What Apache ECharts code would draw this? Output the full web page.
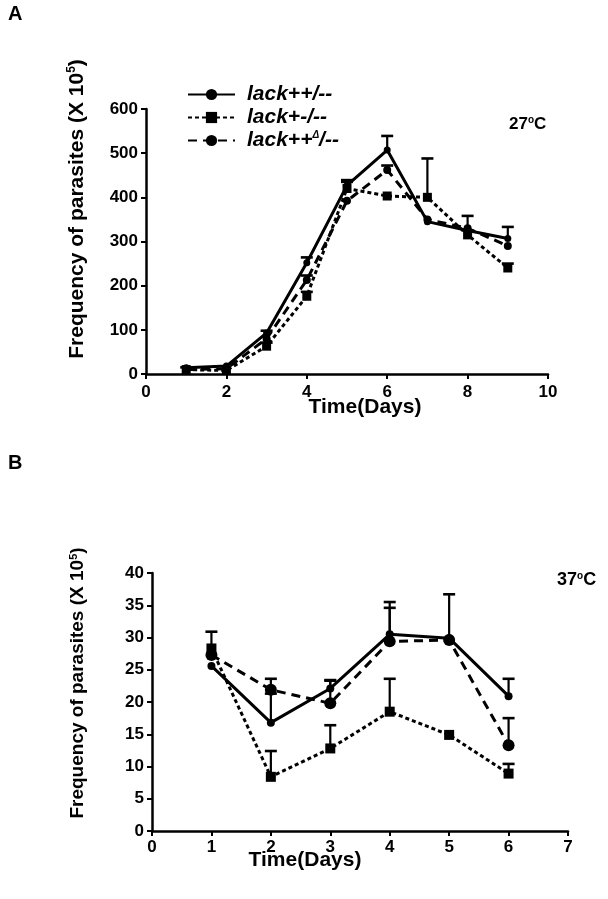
<!DOCTYPE html>
<html>
<head>
<meta charset="utf-8">
<script src="https://cdn.jsdelivr.net/npm/echarts@6/dist/echarts.min.js"></script>
<style>html,body{margin:0;padding:0;background:#fff}#c{width:608px;height:899px}</style>
</head>
<body>
<div id="c"></div>
<script>
// ---- Data: panel A (27 °C) ----
const daysA = [1, 2, 3, 4, 5, 6, 7, 8, 9];
const wtA = [14, 18, 93, 252, 427, 507, 345, 325, 307];       // lack++/--
const hetA = [10, 8, 63, 176, 420, 403, 400, 315, 240];       // lack+-/--
const deltaA = [10, 12, 80, 213, 392, 462, 350, 330, 290];    // lack++Δ/--
const wtErrA = [0, 0, 5, 12, 12, 32, 0, 33, 26];
const hetErrA = [5, 0, 8, 10, 15, 0, 88, 10, 10];
const deltaErrA = [0, 0, 0, 10, 0, 10, 0, 0, 0];
const xTicksA = [0, 2, 4, 6, 8, 10];
const yTicksA = [0, 100, 200, 300, 400, 500, 600];

// ---- Data: panel B (37 °C) ----
const daysB = [1, 2, 3, 4, 5, 6];
const wtB = [25.6, 16.8, 22.1, 30.5, 29.9, 20.9];
const hetB = [28.3, 8.4, 12.8, 18.5, 14.9, 8.9];
const deltaB = [27.3, 21.9, 19.8, 29.4, 29.6, 13.3];
const wtErrB = [0, 4.5, 1.2, 5.0, 6.8, 2.7];
const hetErrB = [2.6, 4.0, 3.6, 5.1, 0, 1.5];
const deltaErrB = [0, 1.7, 3.6, 5.2, 0, 4.2];
const xTicksB = [0, 1, 2, 3, 4, 5, 6, 7];
const yTicksB = [0, 5, 10, 15, 20, 25, 30, 35, 40];

const names = ['lack++/--', 'lack+-/--', 'lack++Δ/--'];

const FONT = 'Liberation Sans, Arial, sans-serif';
const chart = echarts.init(document.getElementById('c'), null, {renderer: 'canvas'});

function pairs(xs, ys) { return xs.map((x, i) => [x, ys[i]]); }
function errTriples(xs, ys, es) { return xs.map((x, i) => [x, ys[i], es[i]]); }

function errRender(params, api) {
  const x = api.value(0), y = api.value(1), e = api.value(2);
  if (!(e > 0)) return null;
  const p0 = api.coord([x, y]);
  const p1 = api.coord([x, y + e]);
  return {
    type: 'group',
    children: [
      {type: 'line', shape: {x1: p0[0], y1: p0[1], x2: p1[0], y2: p1[1]}, style: {stroke: '#000', lineWidth: 2.2}},
      {type: 'line', shape: {x1: p1[0] - 6, y1: p1[1], x2: p1[0] + 6, y2: p1[1]}, style: {stroke: '#000', lineWidth: 2.6}}
    ]
  };
}

const lineStyles = [
  {type: 'solid', width: 3},
  {type: [4, 3], width: 3},
  {type: [9, 6], width: 3}
];
const symbols = ['circle', 'rect', 'circle'];
const symSizesA = [7, 9, 8];
const symSizesB = [8, 10, 12];

function axisCommon(fontSize, margin) {
  return {
    axisLine: {show: true, onZero: false, lineStyle: {color: '#000', width: 2.5}},
    axisTick: {show: true, inside: false, length: 5, lineStyle: {color: '#000', width: 2}},
    splitLine: {show: false},
    axisLabel: {color: '#000', fontFamily: FONT, fontWeight: 'bold', fontSize: fontSize, margin: margin}
  };
}

function lineSeries(idx, xAxisIndex, xs, ys, sizes) {
  return {
    name: names[idx], type: 'line', xAxisIndex: xAxisIndex, yAxisIndex: xAxisIndex,
    data: pairs(xs, ys), symbol: symbols[idx], symbolSize: sizes[idx],
    itemStyle: {color: '#000'}, lineStyle: Object.assign({color: '#000'}, lineStyles[idx]),
    z: 3, animation: false
  };
}
function errSeries(xAxisIndex, xs, ys, es) {
  return {
    type: 'custom', xAxisIndex: xAxisIndex, yAxisIndex: xAxisIndex,
    data: errTriples(xs, ys, es), renderItem: errRender, z: 2, animation: false,
    silent: true
  };
}

const option = {
  backgroundColor: '#fff',
  animation: false,
  grid: [
    {left: 146, top: 109, width: 402, height: 265, outerBoundsMode: 'none'},
    {left: 152, top: 573, width: 416, height: 258, outerBoundsMode: 'none'}
  ],
  xAxis: [
    Object.assign(axisCommon(17, 10), {type: 'value', gridIndex: 0, min: xTicksA[0], max: xTicksA[xTicksA.length - 1], interval: 2}),
    Object.assign(axisCommon(17, 8), {type: 'value', gridIndex: 1, min: xTicksB[0], max: xTicksB[xTicksB.length - 1], interval: 1})
  ],
  yAxis: [
    Object.assign(axisCommon(17, 8), {type: 'value', gridIndex: 0, min: yTicksA[0], max: yTicksA[yTicksA.length - 1], interval: 100}),
    Object.assign(axisCommon(17, 8), {type: 'value', gridIndex: 1, min: yTicksB[0], max: yTicksB[yTicksB.length - 1], interval: 5})
  ],
  legend: {
    data: names,
    orient: 'vertical',
    left: 182, top: 79,
    itemWidth: 47, itemHeight: 14, itemGap: 2,
    selectedMode: false,
    formatter: function (n) { return n === 'lack++Δ/--' ? '{t|lack++}{s|Δ}{u|/--}' : '{t|' + n + '}'; },
    textStyle: {
      color: '#000', fontFamily: FONT, fontWeight: 'bold', fontStyle: 'italic', fontSize: 21, lineHeight: 20,
      rich: {
        t: {fontFamily: FONT, fontWeight: 'bold', fontStyle: 'italic', fontSize: 21, lineHeight: 20, color: '#000', padding: [0, 0, 0, 7]},
        u: {fontFamily: FONT, fontWeight: 'bold', fontStyle: 'italic', fontSize: 21, lineHeight: 20, color: '#000'},
        s: {fontFamily: FONT, fontWeight: 'bold', fontSize: 10, lineHeight: 20, color: '#000', verticalAlign: 'top'}
      }
    }
  },
  graphic: [
    {type: 'text', left: 8, top: 4, style: {text: 'A', font: 'bold 20px ' + FONT, fill: '#000'}},
    {type: 'text', left: 8, top: 453, style: {text: 'B', font: 'bold 20px ' + FONT, fill: '#000'}},
    {type: 'text', x: 509, y: 124, style: {
      text: '27{s|o}C', fill: '#000', font: 'bold 17px ' + FONT, verticalAlign: 'middle',
      rich: {s: {fontSize: 10, fontWeight: 'bold', fontFamily: FONT, padding: [0, 0, 8, 0]}}}},
    {type: 'text', x: 557, y: 580, style: {
      text: '37{s|o}C', fill: '#000', font: 'bold 18px ' + FONT, verticalAlign: 'middle',
      rich: {s: {fontSize: 10, fontWeight: 'bold', fontFamily: FONT, padding: [0, 0, 8, 0]}}}},
    {type: 'text', x: 365, y: 407, style: {text: 'Time(Days)', font: 'bold 21px ' + FONT, fill: '#000', align: 'center', verticalAlign: 'middle'}},
    {type: 'text', x: 305, y: 860, style: {text: 'Time(Days)', font: 'bold 21px ' + FONT, fill: '#000', align: 'center', verticalAlign: 'middle'}},
    {type: 'text', x: 77, y: 209, rotation: Math.PI / 2, style: {
      text: 'Frequency of parasites (X 10{s|5})', font: 'bold 21px ' + FONT, fill: '#000', align: 'center', verticalAlign: 'middle',
      rich: {s: {fontSize: 12, fontWeight: 'bold', fontFamily: FONT, padding: [0, 0, 10, 0]}}}},
    {type: 'text', x: 78, y: 683, rotation: Math.PI / 2, style: {
      text: 'Frequency of parasites (X 10{s|5})', font: 'bold 19px ' + FONT, fill: '#000', align: 'center', verticalAlign: 'middle',
      rich: {s: {fontSize: 11, fontWeight: 'bold', fontFamily: FONT, padding: [0, 0, 9, 0]}}}}
  ],
  series: [
    errSeries(0, daysA, wtA, wtErrA),
    errSeries(0, daysA, hetA, hetErrA),
    errSeries(0, daysA, deltaA, deltaErrA),
    lineSeries(0, 0, daysA, wtA, symSizesA),
    lineSeries(1, 0, daysA, hetA, symSizesA),
    lineSeries(2, 0, daysA, deltaA, symSizesA),
    errSeries(1, daysB, wtB, wtErrB),
    errSeries(1, daysB, hetB, hetErrB),
    errSeries(1, daysB, deltaB, deltaErrB),
    lineSeries(0, 1, daysB, wtB, symSizesB),
    lineSeries(1, 1, daysB, hetB, symSizesB),
    lineSeries(2, 1, daysB, deltaB, symSizesB)
  ]
};
chart.setOption(option);
</script>
</body>
</html>
